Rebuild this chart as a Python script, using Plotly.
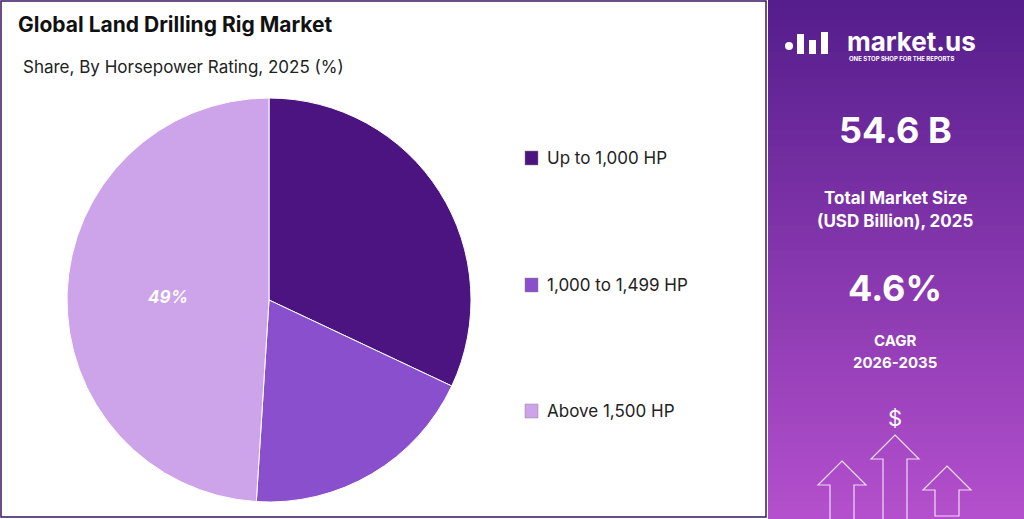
import plotly.graph_objects as go

categories = ["Up to 1,000 HP", "1,000 to 1,499 HP", "Above 1,500 HP"]
shares = [32, 19, 49]
colors = ["#4B1480", "#8A4FCC", "#CDA3EA"]
labels_shown = ["", "", "<b><i>49%</i></b>"]

W, H = 1024, 519
def px(x): return x / W
def py(y): return 1 - y / H

fig = go.Figure()
fig.add_trace(go.Pie(
    labels=categories, values=shares, sort=False, direction="clockwise", rotation=0,
    marker=dict(colors=colors, line=dict(color="white", width=1)),
    text=labels_shown, texttemplate="%{text}", textinfo="text", textposition="inside",
    insidetextfont=dict(color="white", size=17, family="Inter"),
    showlegend=False, hoverinfo="label+percent",
    domain=dict(x=[px(67), px(471)], y=[py(502), py(98)]),
))

shapes = []
shapes.append(dict(type="rect", xref="paper", yref="paper", x0=px(1), x1=px(766), y0=py(517), y1=py(1),
                   line=dict(color="#3a1460", width=1.5), fillcolor="rgba(0,0,0,0)"))
top = (86, 30, 140); bot = (180, 80, 205)
n = 60
for i in range(n):
    t = i / (n - 1)
    c = tuple(int(top[k] + (bot[k] - top[k]) * t) for k in range(3))
    y0 = i * H / n; y1 = (i + 1) * H / n + 1
    shapes.append(dict(type="rect", xref="paper", yref="paper", x0=px(768), x1=1, y0=py(min(y1, H)), y1=py(y0),
                       line=dict(width=0), fillcolor="rgb(%d,%d,%d)" % c, layer="below"))
for c, y in zip(colors, [158, 285, 411]):
    shapes.append(dict(type="rect", xref="paper", yref="paper", x0=px(525), x1=px(538), y0=py(y + 7), y1=py(y - 7),
                       fillcolor=c, line=dict(color="#888", width=0.5)))
def arrow(cx, ytop, hw, sw, ybot):
    pts = [(cx, ytop), (cx + hw, ytop + hw), (cx + sw, ytop + hw), (cx + sw, ybot),
           (cx - sw, ybot), (cx - sw, ytop + hw), (cx - hw, ytop + hw)]
    d = "M " + " L ".join("%f,%f" % (px(x), py(y)) for x, y in pts) + " Z"
    return dict(type="path", xref="paper", yref="paper", path=d, line=dict(color="rgba(255,255,255,0.8)", width=1.2))
shapes.append(arrow(842, 461, 24, 12, 525))
shapes.append(arrow(895, 435, 24, 12, 525))
shapes.append(arrow(947, 466, 24, 12, 516))
shapes.append(dict(type="circle", xref="paper", yref="paper", x0=px(785), x1=px(793), y0=py(50), y1=py(42),
                   fillcolor="white", line=dict(width=0)))
for x0, yt in [(797, 34), (809, 40), (821, 32)]:
    shapes.append(dict(type="rect", xref="paper", yref="paper", x0=px(x0), x1=px(x0 + 7), y0=py(54), y1=py(yt),
                       fillcolor="white", line=dict(width=0)))

ann = []
def A(x, y, t, size, color="black", bold=False, xanchor="left", family="Inter"):
    ann.append(dict(x=px(x), y=py(y), xref="paper", yref="paper", text=("<b>%s</b>" % t if bold else t),
                    showarrow=False, xanchor=xanchor, yanchor="middle",
                    font=dict(size=size, color=color, family=family)))
A(16, 25, "Global Land Drilling Rig Market", 21, "#111", True)
A(21, 67, "Share, By Horsepower Rating, 2025 (%)", 17, "#222")
for cat, y in zip(categories, [158, 285, 411]):
    A(545, y, cat, 17, "#222")
A(845, 42, "market.us", 26, "white", True)
A(847, 58, "ONE STOP SHOP FOR THE REPORTS", 6, "white", True)
A(895, 130, "54.6 B", 36, "white", True, "center")
A(895, 198, "Total Market Size", 17, "white", True, "center")
A(895, 221, "(USD Billion), 2025", 17, "white", True, "center")
A(895, 288, "4.6%", 36, "white", True, "center")
A(895, 340, "CAGR", 15, "white", True, "center")
A(895, 362, "2026-2035", 15, "white", True, "center")
A(895, 418, "$", 22, "white", False, "center")

fig.update_layout(width=W, height=H, margin=dict(l=0, r=0, t=0, b=0), paper_bgcolor="white",
                  plot_bgcolor="white", shapes=shapes, annotations=ann)
fig.write_html("out.html", config={"displayModeBar": False})
with open("out.html", encoding="utf-8") as f:
    s = f.read()
s = s.replace("<body>", '<body style="margin:0;overflow:hidden">', 1)
with open("out.html", "w", encoding="utf-8") as f:
    f.write(s)
